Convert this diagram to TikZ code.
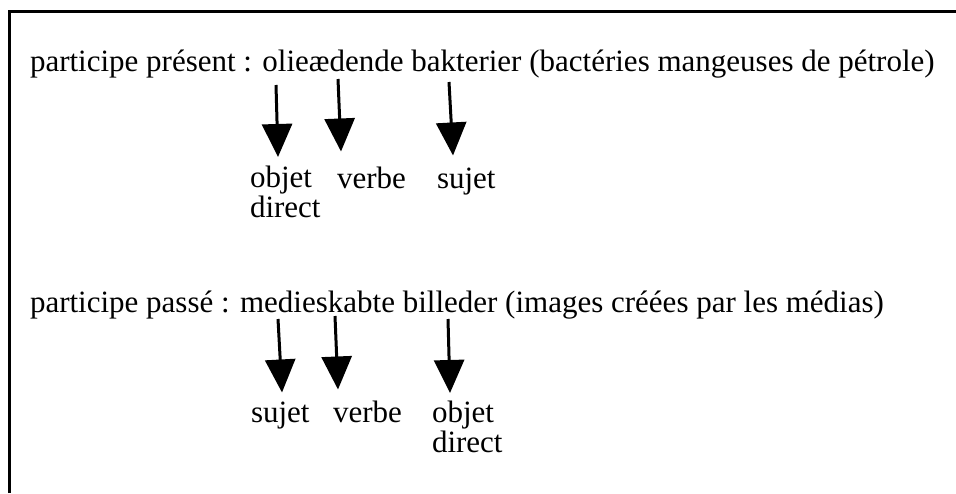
\documentclass[tikz,border=0pt]{standalone}
\usepackage{fontspec}
\setmainfont{Liberation Serif}
\usetikzlibrary{arrows.meta,positioning}

\begin{document}
\begin{tikzpicture}[
    x=1pt, y=-1pt,
    inner sep=0pt, outer sep=0pt,
    txt/.style={anchor=base west, font=\fontsize{31}{29.5}\selectfont},
    role/.style={txt, align=left},
    pointer/.style={line width=3pt, -{Triangle[width=30pt,length=33pt]}},
    frame/.style={line width=3pt}
]
    \useasboundingbox (0,0) rectangle (956,493);
    \draw [frame] (9,493) -- (9,11.5) -- (956,11.5);

    % participe present
    \node [txt] (pres) at (30,71) {participe présent : olieædende bakterier (bactéries mangeuses de pétrole)};
    \node [role] (obj1) at (250,217) {objet\\direct};
    \node [role] (vrb1) at (337,188) {verbe};
    \node [role] (suj1) at (437,188) {sujet};
    \coordinate (olie) at (276,85);
    \coordinate (aede) at (338,79);
    \coordinate (bakt) at (449,82);
    \draw [pointer] (olie) -- ([xshift=28pt,yshift=9pt]obj1.north west);
    \draw [pointer] (aede) -- ([xshift=4pt,yshift=15pt]vrb1.north west);
    \draw [pointer] (bakt) -- ([xshift=16pt,yshift=12pt]suj1.north west);

    % participe passe
    \node [txt] (pass) at (30,312) {participe passé : medieskabte billeder (images créées par les médias)};
    \node [role] (suj2) at (251,422) {sujet};
    \node [role] (vrb2) at (333,422) {verbe};
    \node [role] (obj2) at (432,452) {objet\\direct};
    \coordinate (medie) at (278,319);
    \coordinate (skab) at (335,316);
    \coordinate (bill) at (448,319);
    \draw [pointer] (medie) -- ([xshift=31pt,yshift=9pt]suj2.north west);
    \draw [pointer] (skab) -- ([xshift=5pt,yshift=11pt]vrb2.north west);
    \draw [pointer] (bill) -- ([xshift=18pt,yshift=8pt]obj2.north west);
\end{tikzpicture}
\end{document}
